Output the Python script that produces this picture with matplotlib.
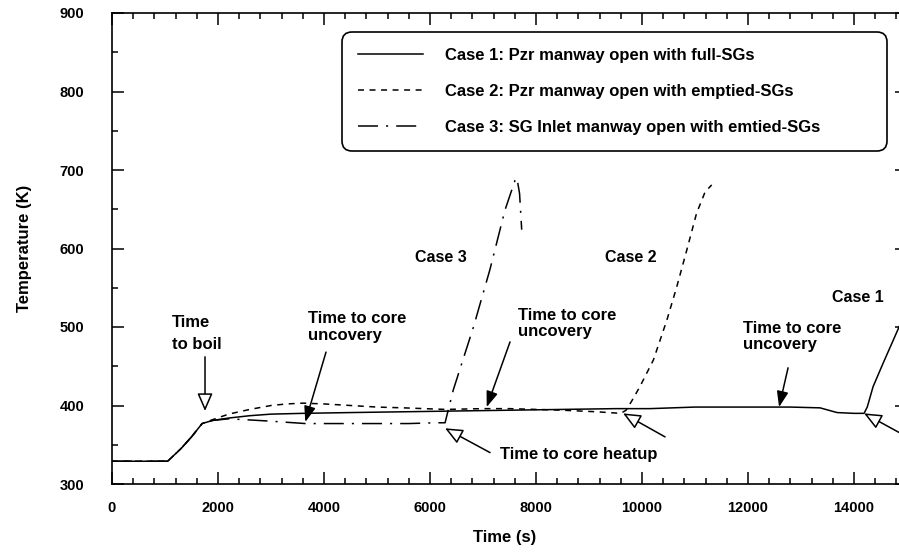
import matplotlib
matplotlib.use('Agg')
import matplotlib.pyplot as plt
from matplotlib.ticker import MultipleLocator

plt.rcParams['font.family'] = ['Liberation Sans', 'DejaVu Sans']
plt.rcParams['lines.scale_dashes'] = False

# ---- data: peak cladding temperature, three manway-open cases ----
t_case1 = [0, 1050, 1300, 1500, 1700, 1900, 2200, 2600, 3000, 3600, 4500, 5500,
           6500, 7500, 8500, 9500, 10150, 11000, 12000, 12800, 13360, 13680,
           14000, 14190, 14250, 14360, 14550, 14850, 15000]
T_case1 = [329, 329, 345, 360, 377, 381, 384, 387, 389, 390, 391, 392,
           393, 394, 395, 396, 396, 398, 398, 398, 397, 391,
           390, 390, 398, 424, 454, 500, 523]

t_case2 = [0, 1050, 1300, 1500, 1700, 1900, 2200, 2600, 3000, 3300, 3600, 4000,
           4500, 5000, 5500, 6300, 7000, 7500, 8000, 8500, 9140, 9600, 9700,
           9800, 9960, 10215, 10470, 10655, 10845, 11030, 11190, 11315]
T_case2 = [329, 329, 345, 360, 377, 382, 389, 395, 400, 402, 403, 402,
           400, 398, 397, 395, 396, 396, 395, 394, 392, 390, 394,
           405, 424, 458, 509, 551, 598, 645, 672, 681]

t_case3 = [0, 1050, 1300, 1500, 1700, 1900, 2200, 2500, 3000, 3650, 4200, 5000,
           5600, 6100, 6284, 6440, 6820, 7130, 7415, 7605, 7640, 7690, 7730]
T_case3 = [329, 329, 345, 360, 377, 381, 383, 382, 380, 377, 377, 377,
           377, 378, 378, 420, 500, 573, 649, 687, 690, 670, 624]

labels = ['Case 1: Pzr manway open with full-SGs',
          'Case 2: Pzr manway open with emptied-SGs',
          'Case 3: SG Inlet manway open with emtied-SGs']

LW = 1.1
DASHED = (0, (4.3, 4.0))
DASHDOT = (0, (14.4, 5.8, 1.5, 5.8))

fig = plt.figure(figsize=(8.99, 5.52), dpi=100)
ax = fig.add_axes([112 / 899, 68 / 552, 795 / 899, 471 / 552])

ax.plot(t_case1, T_case1, color='black', lw=LW, linestyle='-', label=labels[0])
ax.plot(t_case2, T_case2, color='black', lw=LW, linestyle=DASHED, label=labels[1])
ax.plot(t_case3, T_case3, color='black', lw=LW, linestyle=DASHDOT, label=labels[2])

ax.set_xlim(0, 15000)
ax.set_ylim(300, 900)
ax.xaxis.set_major_locator(MultipleLocator(2000))
ax.xaxis.set_minor_locator(MultipleLocator(400))
ax.yaxis.set_major_locator(MultipleLocator(100))
ax.yaxis.set_minor_locator(MultipleLocator(50))

ax.tick_params(which='both', direction='in', top=True, right=True, width=1.1)
ax.tick_params(which='major', length=8.8)
ax.tick_params(which='minor', length=4.5)
ax.tick_params(axis='y', which='major', pad=20)
ax.tick_params(axis='x', which='major', pad=12)
for lbl in ax.get_xticklabels() + ax.get_yticklabels():
    lbl.set_fontsize(10.5)
    lbl.set_fontweight('bold')
for sp in ax.spines.values():
    sp.set_linewidth(1.2)

ax.set_xlabel('Time (s)', fontsize=12, fontweight='bold')
ax.set_ylabel('Temperature (K)', fontsize=12, fontweight='bold')
ax.xaxis.set_label_coords(0.494, -0.098)
ax.yaxis.set_label_coords(-0.100, 0.5)

leg = ax.legend(loc='upper left', bbox_to_anchor=(0.289, 0.713, 0.686, 0.247),
                mode='expand', borderaxespad=0, fancybox=True,
                prop={'size': 12, 'weight': 'bold'},
                handlelength=3.9, handletextpad=1.3, borderpad=0.98,
                labelspacing=1.25, framealpha=1)
frame = leg.get_frame()
frame.set_edgecolor('black')
frame.set_linewidth(1.2)
frame.set_boxstyle('round,pad=0,rounding_size=0.6')

# ---- annotations ----
txt = dict(fontsize=12, fontweight='bold', color='black')

def arrow(tip, tail, filled):
    ax.annotate('', xy=tip, xytext=tail,
                arrowprops=dict(
                    arrowstyle='-|>,head_length=%s,head_width=%s' %
                    ((0.95, 0.35) if filled else (1.08, 0.47)),
                    mutation_scale=10, lw=1.1, ec='black',
                    fc='black' if filled else 'white',
                    shrinkA=0, shrinkB=0))

ax.text(1132, 492, 'Time\nto boil', ha='left', va='center', linespacing=1.55, **txt)
arrow((1755, 393), (1755, 462), filled=False)

ax.text(3700, 500, 'Time to core\nuncovery', ha='left', va='center', linespacing=1.1, **txt)
arrow((3648, 379), (4038, 468), filled=True)

ax.text(7660, 504, 'Time to core\nuncovery', ha='left', va='center', linespacing=1.1, **txt)
arrow((7070, 398), (7510, 481), filled=True)

ax.text(11907, 488, 'Time to core\nuncovery', ha='left', va='center', linespacing=1.1, **txt)
arrow((12586, 398), (12756, 448), filled=True)

ax.text(7322, 337, 'Time to core heatup', ha='left', va='center', **txt)
arrow((6284, 371), (7133, 340), filled=False)
arrow((9643, 390), (10435, 360), filled=False)
arrow((14190, 390), (15058, 358), filled=False)

ax.text(5718, 589, 'Case 3', ha='left', va='center', fontsize=11.5, fontweight='bold')
ax.text(9303, 589, 'Case 2', ha='left', va='center', fontsize=11.5, fontweight='bold')
ax.text(13587, 537, 'Case 1', ha='left', va='center', fontsize=11.5, fontweight='bold')

fig.savefig('out.png', dpi=100, facecolor='white')
